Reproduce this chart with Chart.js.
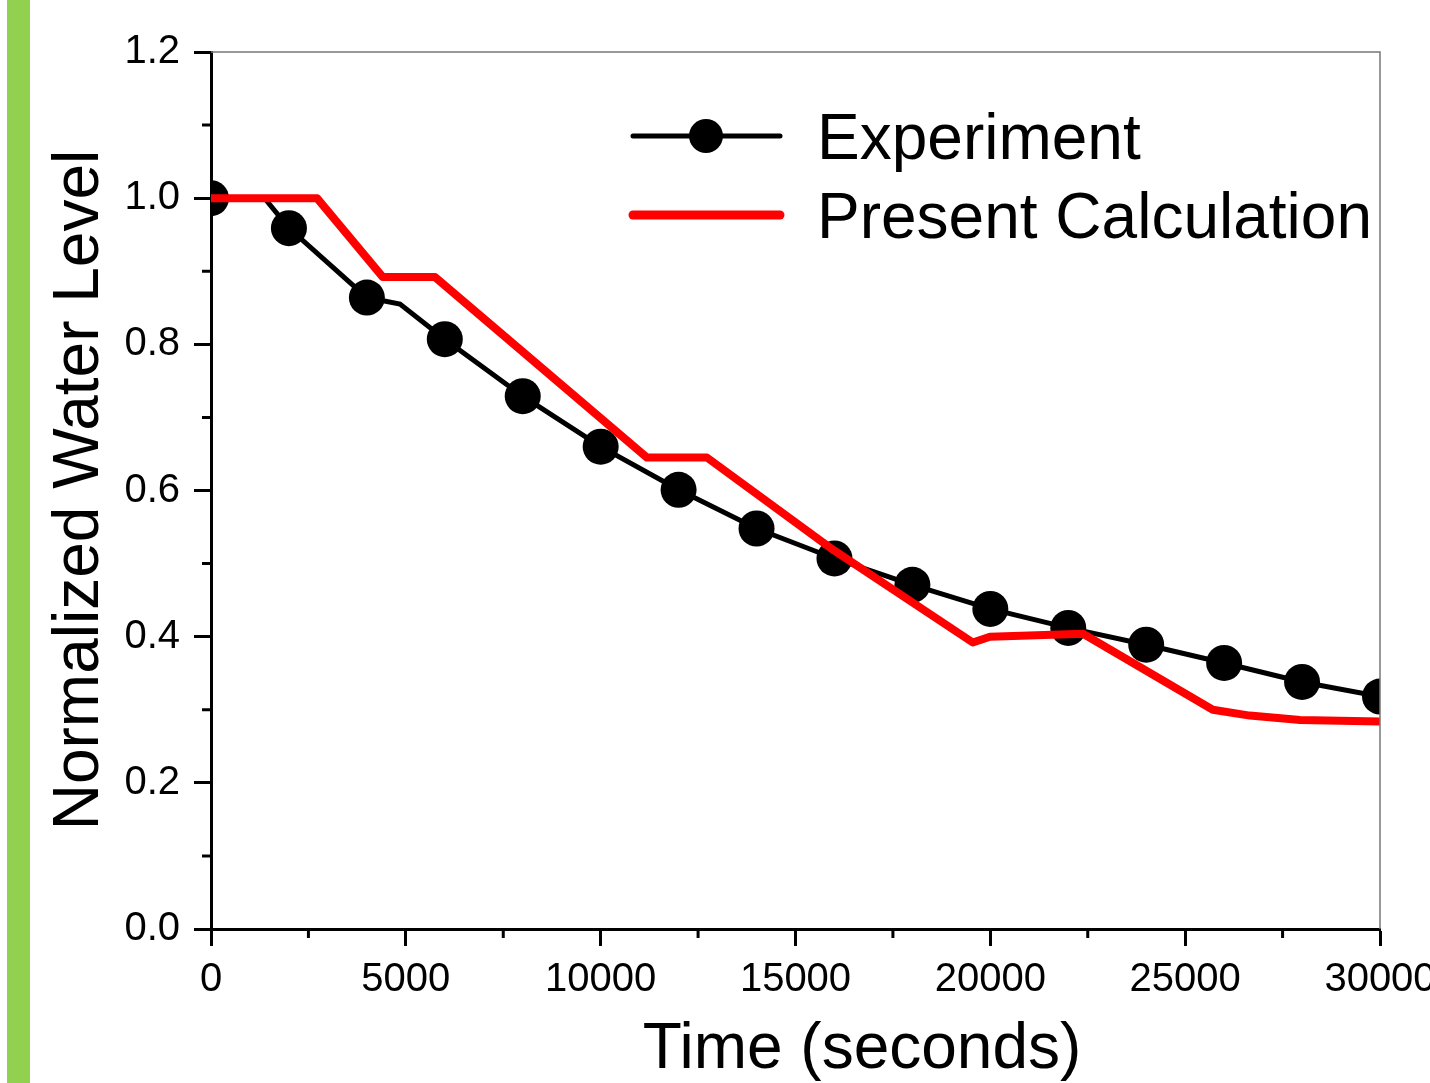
<!DOCTYPE html>
<html lang="en">
<head>
    <meta charset="UTF-8">
    <title>Normalized Water Level</title>
    <style>
        body {margin: 0; background: #fff;}
        .chart-wrap {position: relative; width: 1430px; height: 1083px;}
        .side-bar {position: absolute; left: 7px; top: 0; width: 23px; height: 1083px; background: #92d050;}
        #myChart {position: absolute; left: 0; top: 0;}
    </style>
</head>
<body>
    <div class="chart-wrap">
        <div class="side-bar"></div>
        <canvas id="myChart" width="1430" height="1083"></canvas>
    </div>

    <script src="https://cdn.jsdelivr.net/npm/chart.js@4.4.1/dist/chart.umd.min.js"></script>
    <script>

// measured points (markers)
const expTime = [0, 2000, 4000, 6000, 8000, 10000, 12000, 14000, 16000, 18000, 20000, 22000, 24000, 26000, 28000, 30000];
const expLevel = [1.0, 0.959, 0.864, 0.807, 0.729, 0.660, 0.601, 0.548, 0.507, 0.471, 0.438, 0.412, 0.389, 0.364, 0.338, 0.318];

// extra bends of the experiment trace between markers
const expBendTime = [1390, 4850];
const expBendLevel = [0.999, 0.855];

// present calculation curve
const calcTime = [0, 2720, 4410, 5750, 11190, 12730, 15960, 19550, 19990, 22380, 25710, 26660, 27950, 30000];
const calcLevel = [1.0, 1.0, 0.892, 0.892, 0.645, 0.645, 0.519, 0.392, 0.400, 0.404, 0.300, 0.292, 0.286, 0.284];

const xTicks = [0, 5000, 10000, 15000, 20000, 25000, 30000];
const yTicks = [0.0, 0.2, 0.4, 0.6, 0.8, 1.0, 1.2];

const seriesNames = ['Experiment', 'Present Calculation'];

const FONT = '"Liberation Sans", Arial, Helvetica, sans-serif';
Chart.defaults.font.family = FONT;
Chart.defaults.color = '#000';

const toXY = (xs, ys) => xs.map((t, i) => ({x: t, y: ys[i]}));

// trace = markers + bends, sorted by time
const expTrace = toXY(expTime, expLevel).concat(toXY(expBendTime, expBendLevel)).sort((a, b) => a.x - b.x);

// minor ticks, top/right frame, axis titles and legend
const decor = {
    id: 'decor',
    afterDraw(chart) {
        const {ctx, chartArea: a, scales: {x, y}} = chart;
        ctx.save();

        // thin frame on top and right
        ctx.strokeStyle = '#777';
        ctx.lineWidth = 1.5;
        ctx.beginPath();
        ctx.moveTo(a.left, a.top);
        ctx.lineTo(a.right, a.top);
        ctx.lineTo(a.right, a.bottom);
        ctx.stroke();

        // minor ticks half way between the labelled ones
        ctx.strokeStyle = '#000';
        ctx.lineWidth = 3;
        ctx.beginPath();
        for (let i = 0; i < yTicks.length - 1; i++) {
            const py = y.getPixelForValue((yTicks[i] + yTicks[i + 1]) / 2);
            ctx.moveTo(a.left - 9, py);
            ctx.lineTo(a.left, py);
        }
        for (let i = 0; i < xTicks.length - 1; i++) {
            const px = x.getPixelForValue((xTicks[i] + xTicks[i + 1]) / 2);
            ctx.moveTo(px, a.bottom);
            ctx.lineTo(px, a.bottom + 9);
        }
        ctx.stroke();

        // axis titles
        ctx.fillStyle = '#000';
        ctx.font = '64px ' + FONT;
        ctx.textAlign = 'center';
        ctx.textBaseline = 'alphabetic';
        ctx.fillText('Time (seconds)', a.left + 651, a.bottom + 139);

        ctx.save();
        ctx.translate(a.left - 113, a.top + 438);
        ctx.rotate(-Math.PI / 2);
        ctx.fillText('Normalized Water Level', 0, 0);
        ctx.restore();

        // legend
        const lx = a.left + 422;
        const rows = [a.top + 84, a.top + 163];
        ctx.lineCap = 'round';

        ctx.strokeStyle = chart.data.datasets[1].borderColor;
        ctx.lineWidth = 5;
        ctx.beginPath();
        ctx.moveTo(lx, rows[0]);
        ctx.lineTo(lx + 147, rows[0]);
        ctx.stroke();
        ctx.fillStyle = '#000';
        ctx.beginPath();
        ctx.arc(lx + 73, rows[0], 17, 0, Math.PI * 2);
        ctx.fill();

        ctx.strokeStyle = chart.data.datasets[2].borderColor;
        ctx.lineWidth = 9;
        ctx.beginPath();
        ctx.moveTo(lx, rows[1]);
        ctx.lineTo(lx + 147, rows[1]);
        ctx.stroke();

        ctx.fillStyle = '#000';
        ctx.font = '64px ' + FONT;
        ctx.textAlign = 'left';
        ctx.fillText(seriesNames[0], lx + 184, rows[0] + 23);
        ctx.fillText(seriesNames[1], lx + 184, rows[1] + 23);

        ctx.restore();
    }
};

const ctx = document.getElementById('myChart').getContext('2d');

const config = {
    type: 'line',
    plugins: [decor],
    data: {
        datasets: [
            {
                label: seriesNames[0],
                data: toXY(expTime, expLevel),
                showLine: false,
                pointRadius: 18,
                pointHoverRadius: 18,
                pointBackgroundColor: '#000',
                pointBorderWidth: 0,
                borderColor: '#000',
                clip: 0,
                order: 2
            },
            {
                label: seriesNames[0] + ' trace',
                data: expTrace,
                borderColor: '#000',
                borderWidth: 5,
                pointRadius: 0,
                tension: 0,
                clip: 0,
                order: 3
            },
            {
                label: seriesNames[1],
                data: toXY(calcTime, calcLevel),
                borderColor: '#ff0000',
                borderWidth: 8,
                borderJoinStyle: 'round',
                pointRadius: 0,
                tension: 0,
                clip: 0,
                order: 1
            }
        ]
    },
    options: {
        responsive: false,
        animation: false,
        layout: {
            padding: {left: 0, top: 52, right: 50, bottom: 0}
        },
        plugins: {
            legend: {display: false},
            tooltip: {enabled: false}
        },
        scales: {
            x: {
                type: 'linear',
                min: 0,
                max: 30000,
                afterBuildTicks: (scale) => { scale.ticks = xTicks.map(v => ({value: v})); },
                afterFit: (scale) => { scale.height = 154; scale.paddingRight = 0; },
                border: {color: '#000', width: 3},
                grid: {drawOnChartArea: false, tickLength: 17, tickWidth: 3, tickColor: '#000'},
                ticks: {
                    font: {size: 40},
                    color: '#000',
                    padding: 10,
                    maxRotation: 0,
                    callback: (v) => String(v)
                }
            },
            y: {
                min: 0,
                max: 1.2,
                afterBuildTicks: (scale) => { scale.ticks = yTicks.map(v => ({value: v})); },
                afterFit: (scale) => { scale.width = 211; },
                border: {color: '#000', width: 3},
                grid: {drawOnChartArea: false, tickLength: 17, tickWidth: 3, tickColor: '#000'},
                ticks: {
                    font: {size: 40},
                    color: '#000',
                    padding: 14,
                    callback: (v) => v.toFixed(1)
                }
            }
        }
    }
};

const myChart = new Chart(ctx, config);
    </script>
</body>
</html>
